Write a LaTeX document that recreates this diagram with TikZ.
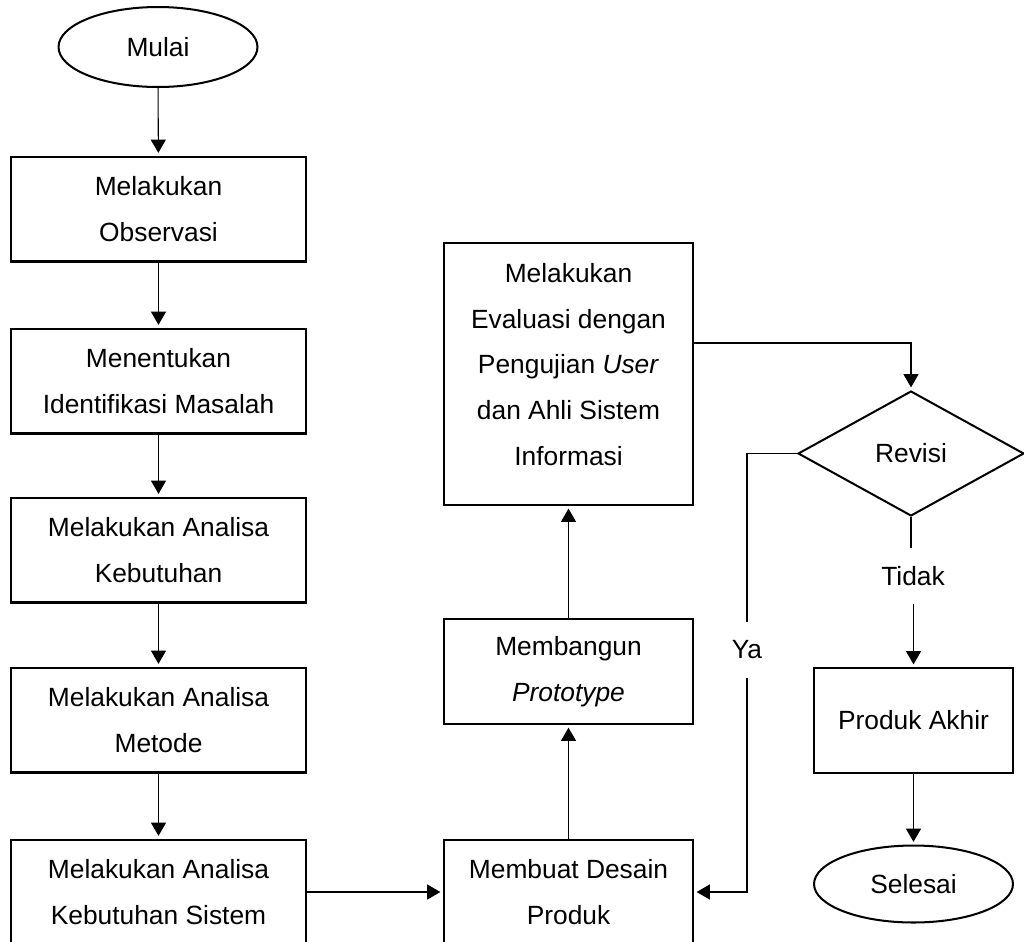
\documentclass[tikz,border=0pt]{standalone}
\usepackage{fontspec}
\setmainfont{Liberation Sans}
\usetikzlibrary{shapes.geometric,arrows.meta,positioning}
\tikzset{proc/.style={draw,line width=1.15pt,rectangle,align=center,inner sep=1pt,
        minimum width=5.9cm,minimum height=2.1cm,font=\fontsize{15}{26}\selectfont},
    term/.style={draw,line width=1.15pt,ellipse,inner sep=0pt,
        minimum width=3.98cm,minimum height=1.6cm,font=\fontsize{15}{26}\selectfont},
    decision/.style={draw,line width=1.15pt,diamond,inner sep=0pt,
        minimum width=4.52cm,minimum height=2.5cm,font=\fontsize{15}{26}\selectfont},
    lbl/.style={inner sep=0pt,minimum height=1.1cm,font=\fontsize{15}{26}\selectfont},
    conn/.style={line width=0.6pt},
    arr/.style={line width=0.6pt,-{Triangle[length=7.5pt,width=8.5pt]},shorten >=1.5pt}}

\begin{document}
\begin{tikzpicture}[x=0.02cm,y=-0.02cm]
  \useasboundingbox (0,0) rectangle (1024,941);
  % kolom kiri
  \node[term] (mulai) at (158,47) {Mulai};
  \node[proc] (obs) at (158.5,209) {Melakukan\\Observasi};
  \node[proc] (ident) at (158.5,381) {Menentukan\\Identifikasi Masalah};
  \node[proc] (kebutuhan) at (158.5,550) {Melakukan Analisa\\Kebutuhan};
  \node[proc] (metode) at (158.5,720) {Melakukan Analisa\\Metode};
  \node[proc] (sistem) at (158.5,892) {Melakukan Analisa\\Kebutuhan Sistem};
  % kolom tengah
  \node[proc,minimum width=4.98cm] (desain) at (568.5,892) {Membuat Desain\\Produk};
  \node[proc,minimum width=4.98cm] (proto) at (568.5,671.5) {Membangun\\\textit{Prototype}};
  \node[proc,minimum width=4.98cm,minimum height=5.24cm,text depth=11pt] (eval) at (568.5,374)
    {Melakukan\\Evaluasi dengan\\Pengujian \textit{User}\\dan Ahli Sistem\\Informasi};
  % kolom kanan
  \node[decision] (revisi) at (911,453.5) {Revisi};
  \node[lbl] (tidak) at (913,576) {Tidak};
  \node[proc,minimum width=3.98cm] (akhir) at (913.5,720.5) {Produk Akhir};
  \node[term,minimum height=1.54cm] (selesai) at (913.5,884) {Selesai};
  \node[lbl] (ya) at (747,650) {Ya};

  \draw[arr] (mulai) -- (obs);
  \draw[arr] (obs) -- (ident);
  \draw[arr] (ident) -- (kebutuhan);
  \draw[arr] (kebutuhan) -- (metode);
  \draw[arr] (metode) -- (sistem);
  \draw[arr] (sistem) -- (desain);
  \draw[arr] (desain) -- (proto);
  \draw[arr] (proto) -- (eval);
  \draw[arr] ([yshift=0.62cm]eval.east) -| (revisi.north);
  \draw[conn] (revisi.south) -- (tidak.north -| revisi.south);
  \draw[arr] (tidak.south -| akhir.north) -- (akhir.north);
  \draw[arr] (akhir) -- (selesai);
  \draw[conn] (revisi.west) -| (ya.north);
  \draw[arr] (ya.south) |- (desain.east);
\end{tikzpicture}
\end{document}
